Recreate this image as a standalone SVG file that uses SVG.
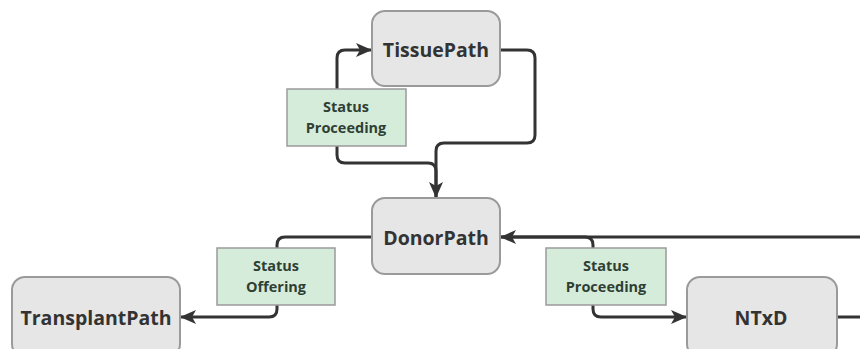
<svg xmlns="http://www.w3.org/2000/svg" width="860" height="349" viewBox="0 0 860 349">
<defs>
<style>
.node rect{fill:#e6e6e6;stroke:#9a9a9a;stroke-width:2}
.node text{font-family:"Open Sans","Noto Sans",sans-serif;font-weight:bold;font-size:19.5px;fill:#333;text-anchor:middle;dominant-baseline:central}
.lbl rect{fill:#d6ecdb;stroke:#9a9a9a;stroke-width:1.5}
.lbl text{font-family:"Open Sans","Noto Sans",sans-serif;font-weight:bold;font-size:14.5px;fill:#2f3f33;text-anchor:middle}
.edge{fill:none;stroke:#333;stroke-width:3}
</style>
<marker id="arr" viewBox="0 0 16 14" refX="15" refY="7" markerWidth="16" markerHeight="14" markerUnits="userSpaceOnUse" orient="auto">
<path d="M0,0 L16,7 L0,14 L4,7 Z" fill="#333"/>
</marker>
</defs>
<rect width="860" height="349" fill="#fff"/>
<g id="connectors">
<path class="edge" d="M436,198 V171 Q436,163 428,163 H345 Q337,163 337,155 V58 Q337,50 345,50 H371" marker-end="url(#arr)"/>
<path class="edge" d="M500,50 H527 Q535,50 535,58 V135 Q535,143 527,143 H444 Q436,143 436,151 V197" marker-end="url(#arr)"/>
<path class="edge" d="M372,237 H285 Q277,237 277,245 V309 Q277,317 269,317 H181" marker-end="url(#arr)"/>
<path class="edge" d="M862,237 H501" marker-end="url(#arr)"/>
<path class="edge" d="M500,237 H585 Q593,237 593,245 V309 Q593,317 601,317 H686" marker-end="url(#arr)"/>
<path class="edge" d="M837,317 H862"/>
</g>
<g id="TissuePath" class="node"><rect x="372" y="11" width="128" height="75" rx="13"/><text x="436" y="49">TissuePath</text></g>
<g id="DonorPath" class="node"><rect x="372" y="198" width="128" height="76" rx="13"/><text x="436" y="237">DonorPath</text></g>
<g id="TransplantPath" class="node"><rect x="12" y="277" width="168" height="80" rx="13"/><text x="96" y="317">TransplantPath</text></g>
<g id="NTxD" class="node"><rect x="687" y="277" width="150" height="80" rx="13"/><text x="761" y="317">NTxD</text></g>
<g id="label-tissue" class="lbl"><rect x="287" y="89" width="119" height="57"/><text x="346" y="112">Status</text><text x="346" y="133">Proceeding</text></g>
<g id="label-offering" class="lbl"><rect x="217" y="248" width="118" height="57"/><text x="276" y="271">Status</text><text x="276" y="292">Offering</text></g>
<g id="label-ntxd" class="lbl"><rect x="546" y="248" width="120" height="57"/><text x="606" y="271">Status</text><text x="606" y="292">Proceeding</text></g>
</svg>
